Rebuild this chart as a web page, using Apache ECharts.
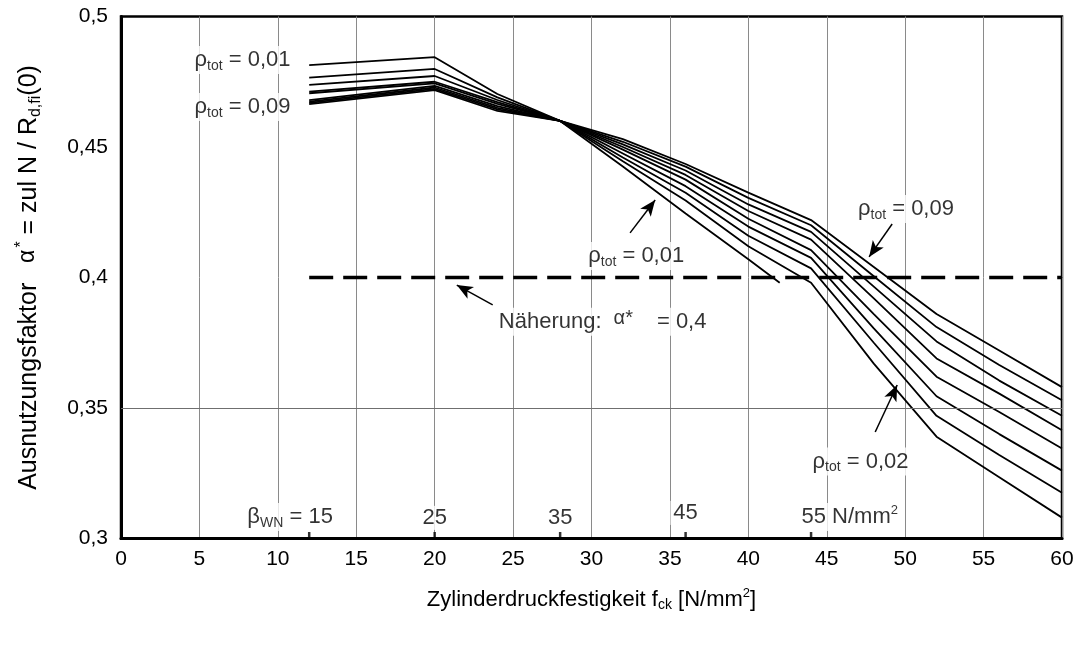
<!DOCTYPE html>
<html>
<head>
<meta charset="utf-8">
<script src="https://cdn.jsdelivr.net/npm/echarts@6/dist/echarts.min.js"></script>
<style>
  html, body { margin: 0; padding: 0; background: #fff; }
  #chart { width: 1079px; height: 647px; }
</style>
</head>
<body>
<div id="chart"></div>
<script>
// Utilisation factor alpha* versus cylinder strength f_ck, one curve per reinforcement ratio rho_tot
const fck      = [12, 20, 24, 28, 32, 36, 40, 44, 48, 52, 56, 60];
const fckRho01 = [12, 20, 24, 28, 32, 36, 40, 42];

const alphaRho01 = [0.4814, 0.4844, 0.4703, 0.460, 0.4425, 0.4245, 0.4070, 0.3980];
const alphaRho02 = [0.4766, 0.4799, 0.4690, 0.460, 0.4445, 0.4295, 0.4120, 0.3980, 0.3670, 0.3390, 0.3235, 0.3080];
const alphaRho03 = [0.4738, 0.4772, 0.4680, 0.460, 0.4460, 0.4325, 0.4160, 0.4035, 0.3750, 0.3470, 0.3320, 0.3175];
const alphaRho04 = [0.4712, 0.4750, 0.4672, 0.460, 0.4475, 0.4350, 0.4195, 0.4075, 0.3805, 0.3545, 0.3400, 0.3260];
const alphaRho05 = [0.4706, 0.4744, 0.4665, 0.460, 0.4490, 0.4375, 0.4225, 0.4105, 0.3860, 0.3620, 0.3485, 0.3345];
const alphaRho06 = [0.4680, 0.4734, 0.4657, 0.460, 0.4500, 0.4393, 0.4255, 0.4145, 0.3920, 0.3690, 0.3555, 0.3415];
const alphaRho07 = [0.4674, 0.4728, 0.4650, 0.460, 0.4510, 0.4410, 0.4280, 0.4175, 0.3965, 0.3755, 0.3605, 0.3470];
const alphaRho08 = [0.4669, 0.4723, 0.4644, 0.460, 0.4520, 0.4425, 0.4305, 0.4200, 0.4005, 0.3810, 0.3665, 0.3530];
const alphaRho09 = [0.4664, 0.4718, 0.4638, 0.460, 0.4530, 0.4435, 0.4325, 0.4220, 0.4040, 0.3860, 0.3720, 0.3580];

// simplified design value alpha* = 0.4
const approxFck   = [12, 60];
const approxAlpha = [0.4, 0.4];

// concrete classes beta_WN and their f_ck
const betaWN  = [15, 25, 35, 45, 55];
const betaFck = [12, 20, 28, 36, 44];

const FONT = '"Liberation Sans", Arial, Helvetica, sans-serif';
const BLACK = '#000';

const rich = {
  n: { fontSize: 22, fontFamily: FONT, color: BLACK },
  s: { fontSize: 14, fontFamily: FONT, color: BLACK, padding: [12, 0, 0, 0] },
  u: { fontSize: 13, fontFamily: FONT, color: BLACK, padding: [0, 0, 13, 0] },
  a: { fontSize: 20, fontFamily: FONT, color: BLACK, padding: [0, 24, 6, 12] }
};
const richTitle = {
  n: { fontSize: 25, fontFamily: FONT, color: BLACK },
  s: { fontSize: 16, fontFamily: FONT, color: BLACK, padding: [13, 0, 0, 0] },
  u: { fontSize: 16, fontFamily: FONT, color: BLACK, padding: [0, 0, 15, 0] },
  a: { fontSize: 23, fontFamily: FONT, color: BLACK, padding: [0, 2, 4, 6] }
};
const richAxis = {
  n: { fontSize: 22, fontFamily: FONT, color: BLACK },
  s: { fontSize: 14, fontFamily: FONT, color: BLACK, padding: [12, 0, 0, 0] },
  u: { fontSize: 13, fontFamily: FONT, color: BLACK, padding: [0, 0, 13, 0] }
};

const rhoText = (v) => '{n|ρ}{s|tot}{n| = ' + v + '}';

// text notes and arrows placed in data coordinates
const notes = [
  { at: [4.5, 0.4833], text: rhoText('0,01'), align: 'left' },
  { at: [4.5, 0.4653], text: rhoText('0,09'), align: 'left' },
  { at: [29.6, 0.4082], text: rhoText('0,01'), align: 'left' },
  { at: [46.8, 0.4262], text: rhoText('0,09'), align: 'left' },
  { at: [43.9, 0.3295], text: rhoText('0,02'), align: 'left' },
  { at: [23.9, 0.3830], text: '{n|Näherung:}{a|α*}{n|= 0,4}', align: 'left' },
  { at: [13.7, 0.3082], text: '{n|β}{s|WN}{n| = ' + betaWN[0] + '}', align: 'right' },
  { at: [betaFck[1], 0.3079], text: '{n|' + betaWN[1] + '}', align: 'center' },
  { at: [betaFck[2], 0.3079], text: '{n|' + betaWN[2] + '}', align: 'center' },
  { at: [betaFck[3], 0.3098], text: '{n|' + betaWN[3] + '}', align: 'center' },
  { at: [43.2, 0.3082], text: '{n|' + betaWN[4] + ' N/mm}{u|2}', align: 'left' }
];

const arrows = [
  [[32.46, 0.4171], [34.06, 0.4297]],
  [[23.70, 0.3895], [21.41, 0.3971]],
  [[49.17, 0.4205], [47.70, 0.4079]],
  [[48.09, 0.3408], [49.49, 0.3588]]
];

const pairs = (xs, ys) => xs.map((x, i) => [x, ys[i]]);

const curveSeries = [
  [fckRho01, alphaRho01], [fck, alphaRho02], [fck, alphaRho03], [fck, alphaRho04],
  [fck, alphaRho05], [fck, alphaRho06], [fck, alphaRho07], [fck, alphaRho08], [fck, alphaRho09]
].map(([xs, ys], i) => ({
  name: 'rho_tot = 0,0' + (i + 1),
  type: 'line',
  data: pairs(xs, ys),
  symbol: 'none',
  lineStyle: { color: BLACK, width: 1.8 },
  z: 4,
  silent: true
}));

const chart = echarts.init(document.getElementById('chart'), null, { renderer: 'canvas' });

chart.setOption({
  animation: false,
  backgroundColor: '#fff',
  grid: {
    left: 121, right: 17, top: 16.5, bottom: 108.5,
    show: true, borderColor: BLACK, borderWidth: 2.5, backgroundColor: 'transparent'
  },
  xAxis: {
    type: 'value', min: 0, max: 60, interval: 5,
    axisLine: { show: true, lineStyle: { color: BLACK, width: 3 } },
    axisTick: { show: false },
    axisLabel: { fontSize: 21, fontFamily: FONT, color: BLACK, margin: 10 },
    splitLine: { show: true, lineStyle: { color: '#8a8a8a', width: 1 } },
    name: '{n|Zylinderdruckfestigkeit f}{s|ck}{n| [N/mm}{u|2}{n|]}',
    nameLocation: 'middle', nameGap: 48,
    nameTextStyle: { rich: richAxis }
  },
  yAxis: {
    type: 'value', min: 0.3, max: 0.5, interval: 0.05,
    axisLine: { show: true, lineStyle: { color: BLACK, width: 3 } },
    axisTick: { show: false },
    axisLabel: {
      fontSize: 21, fontFamily: FONT, color: BLACK, margin: 13,
      formatter: (v) => String(+v.toFixed(2)).replace('.', ',')
    },
    splitLine: { show: false },
    name: '{n|Ausnutzungsfaktor  }{a|α}{u|*}{n| = zul N / R}{s|d,fi}{n|(0)}',
    nameLocation: 'middle', nameRotate: 90, nameGap: 76,
    nameTextStyle: { rich: richTitle }
  },
  series: [
    // horizontal reference line at 0.35
    {
      type: 'line', data: [], silent: true, z: 1,
      markLine: {
        silent: true, symbol: ['none', 'none'], animation: false,
        label: { show: false },
        lineStyle: { color: '#6f6f6f', width: 1, type: 'solid' },
        data: [{ yAxis: 0.35 }]
      }
    },
    ...curveSeries,
    {
      name: 'Näherung', type: 'line', data: pairs(approxFck, approxAlpha),
      symbol: 'none', z: 3, silent: true,
      lineStyle: { color: BLACK, width: 3.5, type: [24, 10] }
    },
    // beta_WN class marks on the f_ck axis
    {
      type: 'scatter', data: betaFck.map((x) => [x, 0.3]), clip: false,
      symbol: 'rect', symbolSize: [2.5, 7], symbolOffset: [0, -3],
      itemStyle: { color: BLACK }, z: 6, silent: true
    },
    // arrows
    {
      type: 'line', data: [], silent: true, z: 5,
      markLine: {
        silent: true, animation: false,
        symbol: ['none', 'arrow'], symbolSize: [10, 16],
        label: { show: false },
        lineStyle: { color: BLACK, width: 1.5, type: 'solid' },
        data: arrows.map(([p, q]) => [{ coord: p }, { coord: q }])
      }
    },
    // text notes
    {
      type: 'scatter', symbolSize: 0, silent: true, z: 3, clip: false,
      data: notes.map((n) => ({
        value: n.at,
        label: {
          show: true, position: [0, 0], align: n.align, verticalAlign: 'middle',
          formatter: n.text, rich: rich,
          backgroundColor: '#fff', padding: [1, 3]
        }
      }))
    }
  ]
});
</script>
</body>
</html>
